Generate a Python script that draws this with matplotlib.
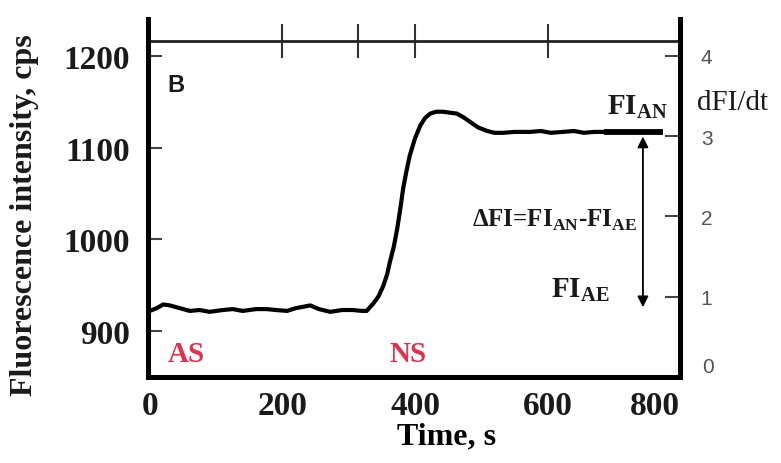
import matplotlib
matplotlib.use('Agg')
import matplotlib.pyplot as plt

# ── data ────────────────────────────────────────────────────────────────
time_s = [0, 10, 20, 30, 40, 50, 60, 75, 90, 110, 125, 140, 160, 176, 190,
          207, 220, 242, 255, 272, 290, 306, 320, 327, 337, 345, 352, 358,
          362, 368, 373, 378, 382, 387, 392, 400, 408, 415, 423, 432, 442,
          452, 463, 473, 483, 495, 509, 520, 533, 550, 574, 590, 605, 623,
          640, 655, 670, 690]
intensity = [922, 925, 929, 928, 926, 924, 922, 923, 921, 923, 924, 922, 924,
             924, 923, 922, 925, 928, 924, 921, 923, 923, 922, 922, 930, 938,
             949, 962, 975, 992, 1011, 1034, 1055, 1074, 1091, 1110, 1124,
             1132, 1137, 1139, 1139, 1138, 1137, 1133, 1128, 1122, 1118, 1116,
             1116, 1117, 1117, 1118, 1116, 1117, 1118, 1116, 1117, 1117]

fi_an_level = 1117
fi_an_span = [690, 770]
fi_ae_level = 926
arrow_x = 744

left_ticks = [900, 1000, 1100, 1200]
right_ticks = [1, 2, 3, 4]
right_labels = ['1', '2', '3', '4', '0']
x_ticks = [0, 200, 400, 600, 800]
top_line_ticks = [200, 314, 400, 600]

SERIF = 'Liberation Serif'
plt.rcParams['mathtext.fontset'] = 'custom'
plt.rcParams['mathtext.rm'] = SERIF
plt.rcParams['mathtext.bf'] = SERIF + ':bold'

fig = plt.figure(figsize=(7.81, 4.64), dpi=100)
ax = fig.add_axes([0.1895, 0.1853, 0.6812, 0.7716])

# trace
ax.plot(time_s, intensity, color='black', lw=3.0, solid_capstyle='round')
ax.plot(fi_an_span, [fi_an_level, fi_an_level], color='black', lw=4.2)
ax.annotate('', xy=(arrow_x, fi_an_level - 5), xytext=(arrow_x, fi_ae_level),
            arrowprops=dict(arrowstyle='<|-|>', color='black', lw=1.3,
                            mutation_scale=16, shrinkA=0, shrinkB=0))

ax.set_xlim(-3, 800)
ax.set_ylim(850, 1240)

for side in ['left', 'bottom', 'right']:
    ax.spines[side].set_linewidth(3.6)
ax.spines['top'].set_visible(False)

ax.set_yticks(left_ticks)
ax.set_yticklabels([str(v) for v in left_ticks], fontfamily=SERIF,
                   fontweight='bold', fontsize=24, color='#1a1a1a')
ax.tick_params(axis='y', direction='in', length=10, width=1.5,
               color='#444444', pad=13)

ax.set_xticks(x_ticks)
xl = ax.set_xticklabels([str(v) for v in x_ticks], fontfamily=SERIF,
                        fontweight='bold', fontsize=24, color='#1a1a1a')
xl[-1].set_ha('right')
ax.tick_params(axis='x', which='major', length=0, pad=9)
ax.set_xticks([400], minor=True)
ax.tick_params(axis='x', which='minor', direction='in', length=9, width=1.2,
               color='#444444')

ax.set_xlabel('Time, s', fontfamily=SERIF, fontweight='bold', fontsize=23)
ax.xaxis.set_label_coords(0.562, -0.125)
ax.set_ylabel('Fluorescence intensity, cps', fontfamily=SERIF,
              fontweight='bold', fontsize=23, color='#1a1a1a')
ax.yaxis.set_label_coords(-0.205, 0.455)

# the horizontal line near the top with its own ticks
top = ax.secondary_xaxis((1216 - 850) / 390)
top.set_xticks(top_line_ticks)
top.set_xticklabels([])
top.tick_params(direction='inout', length=24, width=1.5, color='#333333')
top.spines['top'].set_linewidth(2.0)
top.spines['top'].set_color('#222222')

# right axis
ax2 = ax.twinx()
ax2.set_ylim(0, 4.46)
ax2.spines['top'].set_visible(False)
ax2.spines['right'].set_linewidth(3.6)
ax2.set_yticks(right_ticks)
ax2.set_yticklabels(right_labels[:4], fontfamily='Liberation Sans',
                    fontsize=15, color='#555555')
ax2.tick_params(axis='y', direction='in', length=11, width=1.5,
                color='#444444', pad=15)
ax2.text(1.041, 0.028, right_labels[4], transform=ax2.transAxes,
         fontfamily='Liberation Sans', fontsize=15, color='#555555',
         va='center', ha='left')

# annotations
red = '#e5304c'
ax.text(26, 1162, 'B', fontfamily='Liberation Sans', fontweight='bold',
        fontsize=17, color='#1a1a1a')
ax.text(27, 867, 'AS', fontfamily=SERIF, fontweight='bold', fontsize=21,
        color=red)
ax.text(362, 867, 'NS', fontfamily=SERIF, fontweight='bold', fontsize=21,
        color=red)
ax.text(782, 1137, r'FI$_{\mathbf{AN}}$', fontfamily=SERIF, fontweight='bold',
        fontsize=21, ha='right', va='baseline', color='#1a1a1a')
ax.text(735, 1015, r'ΔFI=FI$_{\mathbf{AN}}$-FI$_{\mathbf{AE}}$',
        fontfamily=SERIF, fontweight='bold', fontsize=18, ha='right',
        va='baseline', color='#1a1a1a')
ax.text(694, 938, r'FI$_{\mathbf{AE}}$', fontfamily=SERIF, fontweight='bold',
        fontsize=21, ha='right', va='baseline', color='#1a1a1a')
ax.text(1.032, 0.749, 'dFI/dt', transform=ax.transAxes, fontfamily=SERIF,
        fontsize=21, va='baseline', ha='left', color='#1a1a1a')

fig.savefig('out.png', dpi=100, facecolor='white')
